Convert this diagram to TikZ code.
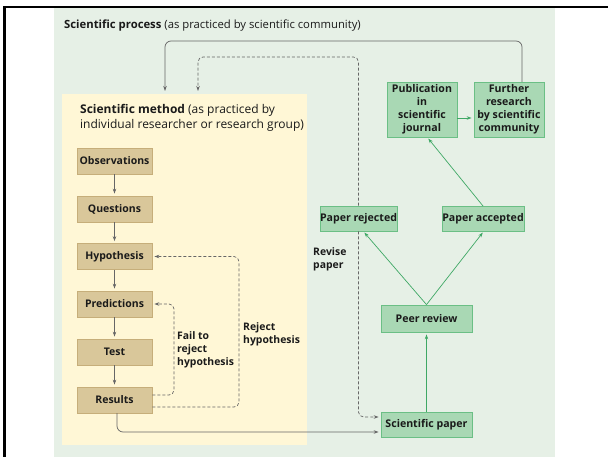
\documentclass[tikz,border=0pt]{standalone}
\usepackage{fontspec}
\setmainfont{Open Sans}
\usetikzlibrary{arrows.meta}
\definecolor{bggreen}{HTML}{E6F0E6}
\definecolor{bgyellow}{HTML}{FFF7D6}
\definecolor{tanfill}{HTML}{D9C79A}
\definecolor{tanline}{HTML}{C6AE7A}
\definecolor{gfill}{HTML}{A9D8B4}
\definecolor{gline}{HTML}{6BBF85}
\definecolor{garrow}{HTML}{3FA865}
\definecolor{gray1}{HTML}{666666}
\definecolor{txt}{HTML}{1A1A1A}
\tikzset{
  tanbox/.style={draw=tanline, fill=tanfill, line width=0.8pt, minimum width=75pt, minimum height=26pt, inner sep=0pt, text=txt, font=\fontsize{10.5}{12}\selectfont\bfseries},
  gbox/.style={draw=gline, fill=gfill, line width=0.8pt, inner sep=0pt, text=txt, font=\fontsize{10.6}{13}\selectfont\bfseries, align=center},
  flow/.style={draw=gray1, line width=0.7pt, -{Stealth[length=5pt,width=3.5pt]}, shorten >=2pt},
  dflow/.style={draw=gray1, line width=0.7pt, dashed, dash pattern=on 3pt off 2pt, rounded corners=5pt, -{Stealth[length=5pt,width=3.5pt]}, shorten >=2pt},
  sflow/.style={draw=gray1, line width=0.7pt, rounded corners=6pt, -{Stealth[length=5pt,width=3.5pt]}, shorten >=2pt},
  garr/.style={draw=garrow, line width=0.7pt, -{Stealth[length=5pt,width=3.5pt]}, shorten >=2pt},
  lbl/.style={inner sep=0pt, anchor=north west, align=left, text=txt, font=\fontsize{10.4}{13}\selectfont\bfseries}
}
\begin{document}
\begin{tikzpicture}[x=1pt,y=-1pt]
\useasboundingbox (0,0) rectangle (608,457);
\fill[white] (0,0) rectangle (608,457);
% backgrounds
\fill[bggreen] (54,8) rectangle (555,457);
\fill[bgyellow] (62,94) rectangle (307,445);
\fill[black] (3,6) rectangle (608,8.5);
\fill[black] (3,6) rectangle (5.5,457);
% titles
\node[anchor=west, inner sep=0pt, text=txt, font=\fontsize{11.3}{12}\selectfont] (t1) at (64,25.5) {\textbf{Scientific process} (as practiced by scientific community)};
\node[anchor=north west, inner sep=0pt, align=left, text=txt, font=\fontsize{12}{15}\selectfont] (t2) at (80,104.5) {\textbf{Scientific method} (as practiced by\\individual researcher or research group)};
% method boxes
\node[tanbox] (obs) at (114.5,161) {Observations};
\node[tanbox] (que) at (114.5,209) {Questions};
\node[tanbox] (hyp) at (114.5,256.5) {Hypothesis};
\node[tanbox] (pre) at (114.5,304) {Predictions};
\node[tanbox] (tst) at (114.5,352) {Test};
\node[tanbox] (res) at (114.5,400) {Results};
% process boxes
\node[gbox, minimum width=70pt, minimum height=55pt] (pub) at (422,109.5) {Publication\\in\\scientific\\journal};
\node[gbox, minimum width=70pt, minimum height=55pt] (fur) at (509,109.5) {Further\\research\\by scientific\\community};
\node[gbox, minimum width=77pt, minimum height=25pt] (rej) at (358.5,218.5) {Paper rejected};
\node[gbox, minimum width=82pt, minimum height=25pt] (acc) at (483,218.5) {Paper accepted};
\node[gbox, minimum width=91pt, minimum height=27pt] (peer) at (426.5,318.5) {Peer review};
\node[gbox, minimum width=91pt, minimum height=25pt] (sci) at (426.5,424.5) {Scientific paper};
% method arrows
\draw[flow] (obs) -- (que);
\draw[flow] (que) -- (hyp);
\draw[flow] (hyp) -- (pre);
\draw[flow] (pre) -- (tst);
\draw[flow] (tst) -- (res);
\draw[dflow] (res.east |- 0,395) -| (174,304) -- (pre.east);
\draw[dflow] (res.east |- 0,407) -| (239,256.5) -- (hyp.east);
\draw[sflow] (117,413) |- (sci.west |- 0,432);
% labels
\node[lbl] (l1) at (177,331) {Fail to\\reject\\hypothesis};
\node[lbl] (l2) at (243,322) {Reject\\hypothesis};
\node[lbl] (l3) at (313,247) {Revise\\paper};
% process arrows
\draw[garr] (sci.north) -- (peer.south);
\draw[garr] (peer.north) -- (363,231);
\draw[garr] (peer.north) -- (484,231);
\draw[garr] (483,206) -- (427,137);
\draw[garr] (pub.east |- 0,118) -- (fur.west |- 0,118);
% loops
\draw[sflow] (522,82) |- (165,41) -- (165,93);
\draw[dflow] (rej.north) |- (198,57) -- (198,93);
\draw[dflow] (rej.south) |- (sci.west |- 0,417);
\end{tikzpicture}
\end{document}
